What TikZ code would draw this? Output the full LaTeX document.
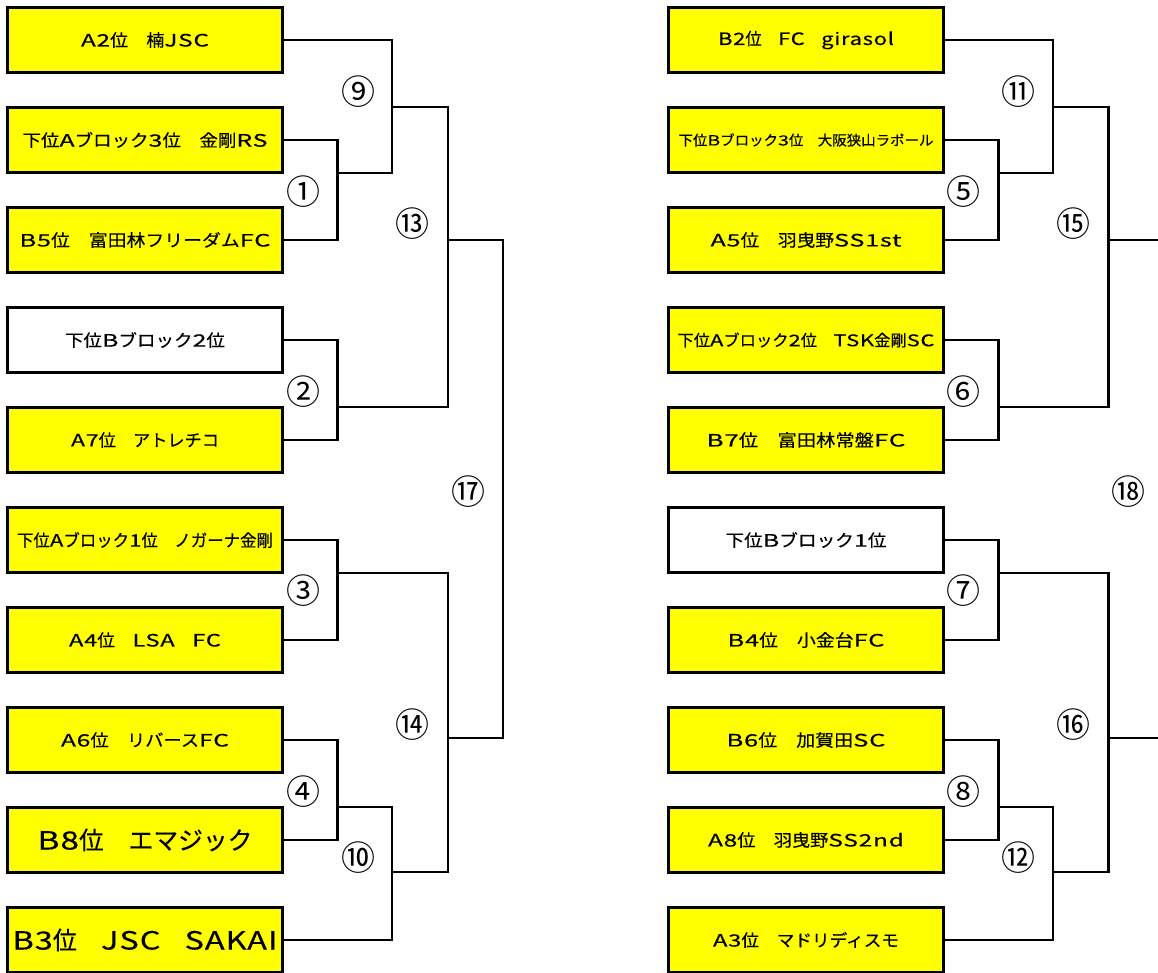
\documentclass[tikz,border=0pt]{standalone}
\usepackage{fontspec}
\newfontfamily\jp[FakeBold=0.35]{Noto Sans CJK JP}
\newfontfamily\la[FakeStretch=1.35,LetterSpace=4,FakeBold=0.35]{Noto Sans CJK JP}
\newfontfamily\jpn{Noto Sans CJK JP}
\newcommand{\La}[1]{{\la #1}}
\definecolor{ylw}{HTML}{FFFF00}
\newcommand{\fitt}[3]{\resizebox{#1pt}{\height}{\fontsize{#2}{#2}\selectfont\jp #3}}
\tikzset{
  team/.style={draw, line width=2.6pt, minimum width=275pt, minimum height=65pt, inner sep=0pt, fill=ylw},
  teamw/.style={team, fill=white},
  conn/.style={line width=2.3pt},
  num/.style={inner sep=0pt, font=\jpn\fontsize{34}{34}\selectfont}
}
\begin{document}
\begin{tikzpicture}[x=1pt,y=-1pt]
\fill[white] (0,0) rectangle (1158,972);
\useasboundingbox (0,0) rectangle (1158,972);
% left teams
\node[team]  (L1)  at (145,40)  {\fitt{128}{17}{\La{A2}位　楠\La{JSC}}};
\node[team]  (L2)  at (145,140) {\fitt{245}{17}{下位\La{A}ブロック\La{3}位　金剛\La{RS}}};
\node[team]  (L3)  at (145,240) {\fitt{251}{17}{\La{B5}位　富田林フリーダム\La{FC}}};
\node[teamw] (L4)  at (145,340) {\fitt{160}{17}{下位\La{B}ブロック\La{2}位}};
\node[team]  (L5)  at (145,440) {\fitt{148}{17}{\La{A7}位　アトレチコ}};
\node[team]  (L6)  at (145,540) {\fitt{256}{17}{下位\La{A}ブロック\La{1}位　ノガーナ金剛}};
\node[team]  (L7)  at (145,640) {\fitt{152}{17}{\La{A4}位　\La{LSA}　\La{FC}}};
\node[team]  (L8)  at (145,740) {\fitt{168}{17}{\La{A6}位　リバース\La{FC}}};
\node[team]  (L9)  at (145,840) {\fitt{215}{25}{\La{B8}位　エマジック}};
\node[team]  (L10) at (145,940) {\fitt{265}{25}{\La{B3}位　\La{JSC}　\La{SAKAI}}};
% right teams
\node[team]  (R1)  at (806,40)  {\fitt{176}{17}{\La{B2}位　\La{FC}　\La{girasol}}};
\node[team]  (R2)  at (806,140) {\fitt{255}{14}{下位\La{B}ブロック\La{3}位　大阪狭山ラポール}};
\node[team]  (R3)  at (806,240) {\fitt{191}{17}{\La{A5}位　羽曳野\La{SS1st}}};
\node[team]  (R4)  at (806,340) {\fitt{257}{16}{下位\La{A}ブロック\La{2}位　\La{TSK}金剛\La{SC}}};
\node[team]  (R5)  at (806,440) {\fitt{199}{17}{\La{B7}位　富田林常盤\La{FC}}};
\node[teamw] (R6)  at (806,540) {\fitt{161}{17}{下位\La{B}ブロック\La{1}位}};
\node[team]  (R7)  at (806,640) {\fitt{157}{17}{\La{B4}位　小金台\La{FC}}};
\node[team]  (R8)  at (806,740) {\fitt{159}{17}{\La{B6}位　加賀田\La{SC}}};
\node[team]  (R9)  at (806,840) {\fitt{196}{17}{\La{A8}位　羽曳野\La{SS2nd}}};
\node[team]  (R10) at (806,940) {\fitt{186}{17}{\La{A3}位　マドリディスモ}};
% junctions left
\coordinate (m1) at (337.5,173);
\coordinate (m2) at (337.5,407);
\coordinate (m3) at (337.5,573);
\coordinate (m4) at (337.5,807);
\coordinate (m9) at (392,107);
\coordinate (m10) at (392,872);
\coordinate (m13) at (448,240);
\coordinate (m14) at (448,738);
\coordinate (m17) at (503,489);
% junctions right
\coordinate (m5) at (998.5,173);
\coordinate (m6) at (998.5,407);
\coordinate (m7) at (998.5,573);
\coordinate (m8) at (998.5,807);
\coordinate (m11) at (1053,107);
\coordinate (m12) at (1053,872);
\coordinate (m15) at (1108.5,240);
\coordinate (m16) at (1108.5,738);
\coordinate (e15) at (1162,240);
\coordinate (e16) at (1162,738);
% connectors left
\draw[conn] (L2.east) -| (m1) |- (L3.east);
\draw[conn] (L4.east) -| (m2) |- (L5.east);
\draw[conn] (L6.east) -| (m3) |- (L7.east);
\draw[conn] (L8.east) -| (m4) |- (L9.east);
\draw[conn] (L1.east) -| (m9) |- (m1);
\draw[conn] (m4) -| (m10) |- (L10.east);
\draw[conn] (m9) -| (m13) |- (m2);
\draw[conn] (m3) -| (m14) |- (m10);
\draw[conn] (m13) -| (m17) |- (m14);
% connectors right
\draw[conn] (R2.east) -| (m5) |- (R3.east);
\draw[conn] (R4.east) -| (m6) |- (R5.east);
\draw[conn] (R6.east) -| (m7) |- (R7.east);
\draw[conn] (R8.east) -| (m8) |- (R9.east);
\draw[conn] (R1.east) -| (m11) |- (m5);
\draw[conn] (m8) -| (m12) |- (R10.east);
\draw[conn] (m11) -| (m15) |- (m6);
\draw[conn] (m7) -| (m16) |- (m12);
\draw[conn] (m15) -- (e15);
\draw[conn] (m16) -- (e16);
% match numbers left
\node[num] (n9)  at (358,92)  {⑨};
\node[num] (n1)  at (303,192) {①};
\node[num] (n13) at (412,224) {⑬};
\node[num] (n2)  at (303,392) {②};
\node[num] (n17) at (468,492) {⑰};
\node[num] (n3)  at (303,591) {③};
\node[num] (n14) at (412,725) {⑭};
\node[num] (n4)  at (303,792) {④};
\node[num] (n10) at (358,858) {⑩};
% match numbers right
\node[num] (n11) at (1018,92)  {⑪};
\node[num] (n5)  at (963,192)  {⑤};
\node[num] (n15) at (1073,224) {⑮};
\node[num] (n6)  at (963,392)  {⑥};
\node[num] (n18) at (1128,492) {⑱};
\node[num] (n7)  at (963,591)  {⑦};
\node[num] (n16) at (1073,725) {⑯};
\node[num] (n8)  at (963,792)  {⑧};
\node[num] (n12) at (1018,858) {⑫};
\end{tikzpicture}
\end{document}
